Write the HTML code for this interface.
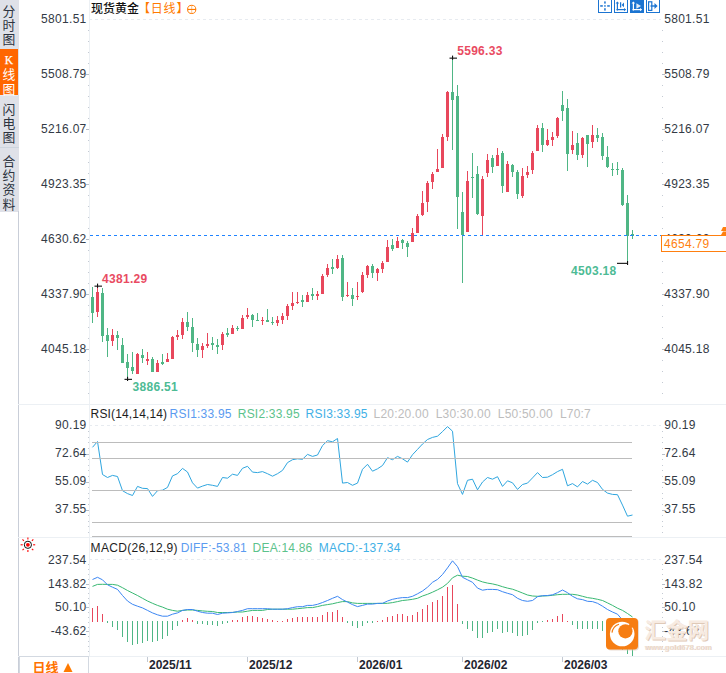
<!DOCTYPE html>
<html><head><meta charset="utf-8"><title>现货黄金 日线</title>
<style>html,body{margin:0;padding:0;background:#fff;width:726px;height:673px;overflow:hidden}</style>
</head><body>
<svg width="726" height="673" viewBox="0 0 726 673" style="display:block">
<rect width="726" height="673" fill="#fff"/>
<rect x="0" y="0" width="19" height="212" fill="#dfe1e8"/>
<rect x="0" y="49" width="18" height="46" fill="#ff6600"/>
<rect x="0" y="95" width="18" height="1" fill="#e9ecf2"/>
<rect x="0" y="147" width="19" height="1" fill="#cdd5de"/>
<text x="8.8" y="16.2" font-family="'Liberation Sans', 'Noto Sans CJK SC', 'WenQuanYi Zen Hei', sans-serif" font-size="12.8" fill="#2d3440" text-anchor="middle">分</text>
<text x="8.8" y="30.1" font-family="'Liberation Sans', 'Noto Sans CJK SC', 'WenQuanYi Zen Hei', sans-serif" font-size="12.8" fill="#2d3440" text-anchor="middle">时</text>
<text x="8.8" y="44.3" font-family="'Liberation Sans', 'Noto Sans CJK SC', 'WenQuanYi Zen Hei', sans-serif" font-size="12.8" fill="#2d3440" text-anchor="middle">图</text>
<text x="8.8" y="64" font-family="'Liberation Serif', serif" font-size="11.5" stroke="#fff" stroke-width="0.25" fill="#fff" text-anchor="middle">K</text>
<text x="8.8" y="79.3" font-family="'Liberation Sans', 'Noto Sans CJK SC', 'WenQuanYi Zen Hei', sans-serif" font-size="12.8" fill="#fff" text-anchor="middle">线</text>
<text x="8.8" y="93.5" font-family="'Liberation Sans', 'Noto Sans CJK SC', 'WenQuanYi Zen Hei', sans-serif" font-size="12.8" fill="#fff" text-anchor="middle">图</text>
<text x="8.8" y="114.1" font-family="'Liberation Sans', 'Noto Sans CJK SC', 'WenQuanYi Zen Hei', sans-serif" font-size="12.8" fill="#2d3440" text-anchor="middle">闪</text>
<text x="8.8" y="128.2" font-family="'Liberation Sans', 'Noto Sans CJK SC', 'WenQuanYi Zen Hei', sans-serif" font-size="12.8" fill="#2d3440" text-anchor="middle">电</text>
<text x="8.8" y="142.3" font-family="'Liberation Sans', 'Noto Sans CJK SC', 'WenQuanYi Zen Hei', sans-serif" font-size="12.8" fill="#2d3440" text-anchor="middle">图</text>
<text x="8.8" y="166.1" font-family="'Liberation Sans', 'Noto Sans CJK SC', 'WenQuanYi Zen Hei', sans-serif" font-size="12.8" fill="#2d3440" text-anchor="middle">合</text>
<text x="8.8" y="180.1" font-family="'Liberation Sans', 'Noto Sans CJK SC', 'WenQuanYi Zen Hei', sans-serif" font-size="12.8" fill="#2d3440" text-anchor="middle">约</text>
<text x="8.8" y="194.3" font-family="'Liberation Sans', 'Noto Sans CJK SC', 'WenQuanYi Zen Hei', sans-serif" font-size="12.8" fill="#2d3440" text-anchor="middle">资</text>
<text x="8.8" y="208.7" font-family="'Liberation Sans', 'Noto Sans CJK SC', 'WenQuanYi Zen Hei', sans-serif" font-size="12.8" fill="#2d3440" text-anchor="middle">料</text>
<rect x="18" y="211" width="1" height="462" fill="#c9ced8"/>
<rect x="18" y="404" width="708" height="1" fill="#ecf0f4"/>
<rect x="18" y="537" width="708" height="1" fill="#ecf0f4"/>
<rect x="18" y="656" width="708" height="1" fill="#ecf0f4"/>
<rect x="89" y="0" width="1" height="656" fill="#ecf0f4"/>
<rect x="19" y="656" width="70" height="1" fill="#d3d9e1"/>
<rect x="19" y="656" width="1" height="17" fill="#d3d9e1"/>
<rect x="88" y="656" width="1" height="17" fill="#d3d9e1"/>
<line x1="90" y1="19.5" x2="661" y2="19.5" stroke="#e7ebf0" stroke-width="1" stroke-dasharray="3 3" stroke-dashoffset="1"/>
<rect x="88" y="30" width="1" height="1" fill="#c4cad3"/>
<rect x="662" y="30" width="1" height="1" fill="#c4cad3"/>
<rect x="88" y="41" width="1" height="1" fill="#c4cad3"/>
<rect x="662" y="41" width="1" height="1" fill="#c4cad3"/>
<rect x="88" y="52" width="1" height="1" fill="#c4cad3"/>
<rect x="662" y="52" width="1" height="1" fill="#c4cad3"/>
<rect x="88" y="63" width="1" height="1" fill="#c4cad3"/>
<rect x="662" y="63" width="1" height="1" fill="#c4cad3"/>
<rect x="86" y="74" width="3" height="1" fill="#b8bec8"/>
<rect x="662" y="74" width="3" height="1" fill="#b8bec8"/>
<rect x="88" y="85" width="1" height="1" fill="#c4cad3"/>
<rect x="662" y="85" width="1" height="1" fill="#c4cad3"/>
<rect x="88" y="96" width="1" height="1" fill="#c4cad3"/>
<rect x="662" y="96" width="1" height="1" fill="#c4cad3"/>
<rect x="88" y="107" width="1" height="1" fill="#c4cad3"/>
<rect x="662" y="107" width="1" height="1" fill="#c4cad3"/>
<rect x="88" y="118" width="1" height="1" fill="#c4cad3"/>
<rect x="662" y="118" width="1" height="1" fill="#c4cad3"/>
<rect x="86" y="129" width="3" height="1" fill="#b8bec8"/>
<rect x="662" y="129" width="3" height="1" fill="#b8bec8"/>
<rect x="88" y="140" width="1" height="1" fill="#c4cad3"/>
<rect x="662" y="140" width="1" height="1" fill="#c4cad3"/>
<rect x="88" y="151" width="1" height="1" fill="#c4cad3"/>
<rect x="662" y="151" width="1" height="1" fill="#c4cad3"/>
<rect x="88" y="162" width="1" height="1" fill="#c4cad3"/>
<rect x="662" y="162" width="1" height="1" fill="#c4cad3"/>
<rect x="88" y="173" width="1" height="1" fill="#c4cad3"/>
<rect x="662" y="173" width="1" height="1" fill="#c4cad3"/>
<rect x="86" y="184" width="3" height="1" fill="#b8bec8"/>
<rect x="662" y="184" width="3" height="1" fill="#b8bec8"/>
<rect x="88" y="195" width="1" height="1" fill="#c4cad3"/>
<rect x="662" y="195" width="1" height="1" fill="#c4cad3"/>
<rect x="88" y="206" width="1" height="1" fill="#c4cad3"/>
<rect x="662" y="206" width="1" height="1" fill="#c4cad3"/>
<rect x="88" y="217" width="1" height="1" fill="#c4cad3"/>
<rect x="662" y="217" width="1" height="1" fill="#c4cad3"/>
<rect x="88" y="228" width="1" height="1" fill="#c4cad3"/>
<rect x="662" y="228" width="1" height="1" fill="#c4cad3"/>
<rect x="86" y="239" width="3" height="1" fill="#b8bec8"/>
<rect x="662" y="239" width="3" height="1" fill="#b8bec8"/>
<rect x="88" y="250" width="1" height="1" fill="#c4cad3"/>
<rect x="662" y="250" width="1" height="1" fill="#c4cad3"/>
<rect x="88" y="261" width="1" height="1" fill="#c4cad3"/>
<rect x="662" y="261" width="1" height="1" fill="#c4cad3"/>
<rect x="88" y="272" width="1" height="1" fill="#c4cad3"/>
<rect x="662" y="272" width="1" height="1" fill="#c4cad3"/>
<rect x="88" y="283" width="1" height="1" fill="#c4cad3"/>
<rect x="662" y="283" width="1" height="1" fill="#c4cad3"/>
<rect x="86" y="294" width="3" height="1" fill="#b8bec8"/>
<rect x="662" y="294" width="3" height="1" fill="#b8bec8"/>
<rect x="88" y="305" width="1" height="1" fill="#c4cad3"/>
<rect x="662" y="305" width="1" height="1" fill="#c4cad3"/>
<rect x="88" y="316" width="1" height="1" fill="#c4cad3"/>
<rect x="662" y="316" width="1" height="1" fill="#c4cad3"/>
<rect x="88" y="327" width="1" height="1" fill="#c4cad3"/>
<rect x="662" y="327" width="1" height="1" fill="#c4cad3"/>
<rect x="88" y="338" width="1" height="1" fill="#c4cad3"/>
<rect x="662" y="338" width="1" height="1" fill="#c4cad3"/>
<rect x="86" y="349" width="3" height="1" fill="#b8bec8"/>
<rect x="662" y="349" width="3" height="1" fill="#b8bec8"/>
<rect x="88" y="360" width="1" height="1" fill="#c4cad3"/>
<rect x="662" y="360" width="1" height="1" fill="#c4cad3"/>
<rect x="88" y="371" width="1" height="1" fill="#c4cad3"/>
<rect x="662" y="371" width="1" height="1" fill="#c4cad3"/>
<rect x="88" y="382" width="1" height="1" fill="#c4cad3"/>
<rect x="662" y="382" width="1" height="1" fill="#c4cad3"/>
<rect x="88" y="393" width="1" height="1" fill="#c4cad3"/>
<rect x="662" y="393" width="1" height="1" fill="#c4cad3"/>
<text x="86.6" y="22.9" font-family="'Liberation Sans', Arial, sans-serif" font-size="12" letter-spacing="0.3" fill="#333a45" text-anchor="end">5801.51</text>
<text x="664.2" y="22.9" font-family="'Liberation Sans', Arial, sans-serif" font-size="12" letter-spacing="0.3" fill="#333a45">5801.51</text>
<text x="86.6" y="77.9" font-family="'Liberation Sans', Arial, sans-serif" font-size="12" letter-spacing="0.3" fill="#333a45" text-anchor="end">5508.79</text>
<text x="664.2" y="77.9" font-family="'Liberation Sans', Arial, sans-serif" font-size="12" letter-spacing="0.3" fill="#333a45">5508.79</text>
<text x="86.6" y="132.9" font-family="'Liberation Sans', Arial, sans-serif" font-size="12" letter-spacing="0.3" fill="#333a45" text-anchor="end">5216.07</text>
<text x="664.2" y="132.9" font-family="'Liberation Sans', Arial, sans-serif" font-size="12" letter-spacing="0.3" fill="#333a45">5216.07</text>
<text x="86.6" y="187.9" font-family="'Liberation Sans', Arial, sans-serif" font-size="12" letter-spacing="0.3" fill="#333a45" text-anchor="end">4923.35</text>
<text x="664.2" y="187.9" font-family="'Liberation Sans', Arial, sans-serif" font-size="12" letter-spacing="0.3" fill="#333a45">4923.35</text>
<text x="86.6" y="242.9" font-family="'Liberation Sans', Arial, sans-serif" font-size="12" letter-spacing="0.3" fill="#333a45" text-anchor="end">4630.62</text>
<text x="664.2" y="242.9" font-family="'Liberation Sans', Arial, sans-serif" font-size="12" letter-spacing="0.3" fill="#333a45">4630.62</text>
<text x="86.6" y="297.9" font-family="'Liberation Sans', Arial, sans-serif" font-size="12" letter-spacing="0.3" fill="#333a45" text-anchor="end">4337.90</text>
<text x="664.2" y="297.9" font-family="'Liberation Sans', Arial, sans-serif" font-size="12" letter-spacing="0.3" fill="#333a45">4337.90</text>
<text x="86.6" y="352.9" font-family="'Liberation Sans', Arial, sans-serif" font-size="12" letter-spacing="0.3" fill="#333a45" text-anchor="end">4045.18</text>
<text x="664.2" y="352.9" font-family="'Liberation Sans', Arial, sans-serif" font-size="12" letter-spacing="0.3" fill="#333a45">4045.18</text>
<line x1="90" y1="425.5" x2="661" y2="425.5" stroke="#e7ebf0" stroke-width="1" stroke-dasharray="3 3" stroke-dashoffset="1"/>
<rect x="88" y="431" width="1" height="1" fill="#c4cad3"/>
<rect x="662" y="431" width="1" height="1" fill="#c4cad3"/>
<rect x="88" y="437" width="1" height="1" fill="#c4cad3"/>
<rect x="662" y="437" width="1" height="1" fill="#c4cad3"/>
<rect x="88" y="442" width="1" height="1" fill="#c4cad3"/>
<rect x="662" y="442" width="1" height="1" fill="#c4cad3"/>
<rect x="88" y="448" width="1" height="1" fill="#c4cad3"/>
<rect x="662" y="448" width="1" height="1" fill="#c4cad3"/>
<rect x="86" y="454" width="3" height="1" fill="#b8bec8"/>
<rect x="662" y="454" width="3" height="1" fill="#b8bec8"/>
<rect x="88" y="459" width="1" height="1" fill="#c4cad3"/>
<rect x="662" y="459" width="1" height="1" fill="#c4cad3"/>
<rect x="88" y="465" width="1" height="1" fill="#c4cad3"/>
<rect x="662" y="465" width="1" height="1" fill="#c4cad3"/>
<rect x="88" y="470" width="1" height="1" fill="#c4cad3"/>
<rect x="662" y="470" width="1" height="1" fill="#c4cad3"/>
<rect x="88" y="476" width="1" height="1" fill="#c4cad3"/>
<rect x="662" y="476" width="1" height="1" fill="#c4cad3"/>
<rect x="86" y="482" width="3" height="1" fill="#b8bec8"/>
<rect x="662" y="482" width="3" height="1" fill="#b8bec8"/>
<rect x="88" y="487" width="1" height="1" fill="#c4cad3"/>
<rect x="662" y="487" width="1" height="1" fill="#c4cad3"/>
<rect x="88" y="493" width="1" height="1" fill="#c4cad3"/>
<rect x="662" y="493" width="1" height="1" fill="#c4cad3"/>
<rect x="88" y="498" width="1" height="1" fill="#c4cad3"/>
<rect x="662" y="498" width="1" height="1" fill="#c4cad3"/>
<rect x="88" y="504" width="1" height="1" fill="#c4cad3"/>
<rect x="662" y="504" width="1" height="1" fill="#c4cad3"/>
<rect x="86" y="510" width="3" height="1" fill="#b8bec8"/>
<rect x="662" y="510" width="3" height="1" fill="#b8bec8"/>
<rect x="88" y="515" width="1" height="1" fill="#c4cad3"/>
<rect x="662" y="515" width="1" height="1" fill="#c4cad3"/>
<rect x="88" y="521" width="1" height="1" fill="#c4cad3"/>
<rect x="662" y="521" width="1" height="1" fill="#c4cad3"/>
<rect x="88" y="526" width="1" height="1" fill="#c4cad3"/>
<rect x="662" y="526" width="1" height="1" fill="#c4cad3"/>
<rect x="88" y="532" width="1" height="1" fill="#c4cad3"/>
<rect x="662" y="532" width="1" height="1" fill="#c4cad3"/>
<text x="86.6" y="429.4" font-family="'Liberation Sans', Arial, sans-serif" font-size="12" letter-spacing="0.3" fill="#333a45" text-anchor="end">90.19</text>
<text x="664.2" y="429.4" font-family="'Liberation Sans', Arial, sans-serif" font-size="12" letter-spacing="0.3" fill="#333a45">90.19</text>
<text x="86.6" y="457.4" font-family="'Liberation Sans', Arial, sans-serif" font-size="12" letter-spacing="0.3" fill="#333a45" text-anchor="end">72.64</text>
<text x="664.2" y="457.4" font-family="'Liberation Sans', Arial, sans-serif" font-size="12" letter-spacing="0.3" fill="#333a45">72.64</text>
<text x="86.6" y="485.4" font-family="'Liberation Sans', Arial, sans-serif" font-size="12" letter-spacing="0.3" fill="#333a45" text-anchor="end">55.09</text>
<text x="664.2" y="485.4" font-family="'Liberation Sans', Arial, sans-serif" font-size="12" letter-spacing="0.3" fill="#333a45">55.09</text>
<text x="86.6" y="513.4" font-family="'Liberation Sans', Arial, sans-serif" font-size="12" letter-spacing="0.3" fill="#333a45" text-anchor="end">37.55</text>
<text x="664.2" y="513.4" font-family="'Liberation Sans', Arial, sans-serif" font-size="12" letter-spacing="0.3" fill="#333a45">37.55</text>
<line x1="90" y1="559.5" x2="661" y2="559.5" stroke="#e7ebf0" stroke-width="1" stroke-dasharray="3 3" stroke-dashoffset="1"/>
<rect x="88" y="564" width="1" height="1" fill="#c4cad3"/>
<rect x="662" y="564" width="1" height="1" fill="#c4cad3"/>
<rect x="88" y="569" width="1" height="1" fill="#c4cad3"/>
<rect x="662" y="569" width="1" height="1" fill="#c4cad3"/>
<rect x="88" y="574" width="1" height="1" fill="#c4cad3"/>
<rect x="662" y="574" width="1" height="1" fill="#c4cad3"/>
<rect x="88" y="579" width="1" height="1" fill="#c4cad3"/>
<rect x="662" y="579" width="1" height="1" fill="#c4cad3"/>
<rect x="86" y="584" width="3" height="1" fill="#b8bec8"/>
<rect x="662" y="584" width="3" height="1" fill="#b8bec8"/>
<rect x="88" y="588" width="1" height="1" fill="#c4cad3"/>
<rect x="662" y="588" width="1" height="1" fill="#c4cad3"/>
<rect x="88" y="593" width="1" height="1" fill="#c4cad3"/>
<rect x="662" y="593" width="1" height="1" fill="#c4cad3"/>
<rect x="88" y="598" width="1" height="1" fill="#c4cad3"/>
<rect x="662" y="598" width="1" height="1" fill="#c4cad3"/>
<rect x="88" y="603" width="1" height="1" fill="#c4cad3"/>
<rect x="662" y="603" width="1" height="1" fill="#c4cad3"/>
<rect x="86" y="607" width="3" height="1" fill="#b8bec8"/>
<rect x="662" y="607" width="3" height="1" fill="#b8bec8"/>
<rect x="88" y="612" width="1" height="1" fill="#c4cad3"/>
<rect x="662" y="612" width="1" height="1" fill="#c4cad3"/>
<rect x="88" y="617" width="1" height="1" fill="#c4cad3"/>
<rect x="662" y="617" width="1" height="1" fill="#c4cad3"/>
<rect x="88" y="622" width="1" height="1" fill="#c4cad3"/>
<rect x="662" y="622" width="1" height="1" fill="#c4cad3"/>
<rect x="88" y="627" width="1" height="1" fill="#c4cad3"/>
<rect x="662" y="627" width="1" height="1" fill="#c4cad3"/>
<rect x="86" y="631" width="3" height="1" fill="#b8bec8"/>
<rect x="662" y="631" width="3" height="1" fill="#b8bec8"/>
<rect x="88" y="636" width="1" height="1" fill="#c4cad3"/>
<rect x="662" y="636" width="1" height="1" fill="#c4cad3"/>
<rect x="88" y="641" width="1" height="1" fill="#c4cad3"/>
<rect x="662" y="641" width="1" height="1" fill="#c4cad3"/>
<rect x="88" y="646" width="1" height="1" fill="#c4cad3"/>
<rect x="662" y="646" width="1" height="1" fill="#c4cad3"/>
<rect x="88" y="651" width="1" height="1" fill="#c4cad3"/>
<rect x="662" y="651" width="1" height="1" fill="#c4cad3"/>
<text x="86.6" y="563.6" font-family="'Liberation Sans', Arial, sans-serif" font-size="12" letter-spacing="0.3" fill="#333a45" text-anchor="end">237.54</text>
<text x="664.2" y="563.6" font-family="'Liberation Sans', Arial, sans-serif" font-size="12" letter-spacing="0.3" fill="#333a45">237.54</text>
<text x="86.6" y="587.5" font-family="'Liberation Sans', Arial, sans-serif" font-size="12" letter-spacing="0.3" fill="#333a45" text-anchor="end">143.82</text>
<text x="664.2" y="587.5" font-family="'Liberation Sans', Arial, sans-serif" font-size="12" letter-spacing="0.3" fill="#333a45">143.82</text>
<text x="86.6" y="611.4" font-family="'Liberation Sans', Arial, sans-serif" font-size="12" letter-spacing="0.3" fill="#333a45" text-anchor="end">50.10</text>
<text x="664.2" y="611.4" font-family="'Liberation Sans', Arial, sans-serif" font-size="12" letter-spacing="0.3" fill="#333a45">50.10</text>
<text x="86.6" y="635.3" font-family="'Liberation Sans', Arial, sans-serif" font-size="12" letter-spacing="0.3" fill="#333a45" text-anchor="end">-43.62</text>
<text x="664.2" y="635.3" font-family="'Liberation Sans', Arial, sans-serif" font-size="12" letter-spacing="0.3" fill="#333a45">-43.62</text>
<g shape-rendering="crispEdges">
<rect x="92" y="287" width="1" height="36" fill="#4fb685"/>
<rect x="91" y="297" width="3" height="16" fill="#4fb685"/>
<rect x="97" y="286" width="1" height="31" fill="#e8475c"/>
<rect x="96" y="292" width="3" height="20" fill="#e8475c"/>
<rect x="102" y="288" width="1" height="54" fill="#4fb685"/>
<rect x="101" y="293" width="3" height="43" fill="#4fb685"/>
<rect x="107" y="328" width="1" height="29" fill="#4fb685"/>
<rect x="106" y="335" width="3" height="6" fill="#4fb685"/>
<rect x="112" y="329" width="1" height="17" fill="#e8475c"/>
<rect x="111" y="335" width="3" height="6" fill="#e8475c"/>
<rect x="117" y="331" width="1" height="19" fill="#4fb685"/>
<rect x="116" y="335" width="3" height="3" fill="#4fb685"/>
<rect x="122" y="338" width="1" height="25" fill="#4fb685"/>
<rect x="121" y="345" width="3" height="18" fill="#4fb685"/>
<rect x="127" y="354" width="1" height="25" fill="#4fb685"/>
<rect x="126" y="362" width="3" height="6" fill="#4fb685"/>
<rect x="132" y="352" width="1" height="22" fill="#4fb685"/>
<rect x="131" y="367" width="3" height="4" fill="#4fb685"/>
<rect x="137" y="353" width="1" height="21" fill="#e8475c"/>
<rect x="136" y="354" width="3" height="20" fill="#e8475c"/>
<rect x="142" y="349" width="1" height="14" fill="#4fb685"/>
<rect x="141" y="355" width="3" height="3" fill="#4fb685"/>
<rect x="147" y="352" width="1" height="13" fill="#e8475c"/>
<rect x="146" y="359" width="3" height="2" fill="#e8475c"/>
<rect x="152" y="357" width="1" height="15" fill="#4fb685"/>
<rect x="151" y="359" width="3" height="13" fill="#4fb685"/>
<rect x="157" y="360" width="1" height="12" fill="#e8475c"/>
<rect x="156" y="363" width="3" height="9" fill="#e8475c"/>
<rect x="162" y="354" width="1" height="11" fill="#4fb685"/>
<rect x="161" y="362" width="3" height="2" fill="#4fb685"/>
<rect x="167" y="353" width="1" height="9" fill="#e8475c"/>
<rect x="166" y="359" width="3" height="3" fill="#e8475c"/>
<rect x="172" y="336" width="1" height="23" fill="#e8475c"/>
<rect x="171" y="337" width="3" height="22" fill="#e8475c"/>
<rect x="177" y="330" width="1" height="10" fill="#e8475c"/>
<rect x="176" y="335" width="3" height="2" fill="#e8475c"/>
<rect x="182" y="318" width="1" height="21" fill="#e8475c"/>
<rect x="181" y="322" width="3" height="13" fill="#e8475c"/>
<rect x="187" y="312" width="1" height="19" fill="#4fb685"/>
<rect x="186" y="322" width="3" height="5" fill="#4fb685"/>
<rect x="192" y="318" width="1" height="34" fill="#4fb685"/>
<rect x="191" y="327" width="3" height="16" fill="#4fb685"/>
<rect x="197" y="338" width="1" height="19" fill="#4fb685"/>
<rect x="196" y="344" width="3" height="6" fill="#4fb685"/>
<rect x="202" y="343" width="1" height="15" fill="#e8475c"/>
<rect x="201" y="346" width="3" height="4" fill="#e8475c"/>
<rect x="207" y="333" width="1" height="15" fill="#e8475c"/>
<rect x="206" y="344" width="3" height="2" fill="#e8475c"/>
<rect x="212" y="337" width="1" height="13" fill="#4fb685"/>
<rect x="211" y="343" width="3" height="2" fill="#4fb685"/>
<rect x="217" y="339" width="1" height="15" fill="#4fb685"/>
<rect x="216" y="345" width="3" height="2" fill="#4fb685"/>
<rect x="222" y="332" width="1" height="18" fill="#e8475c"/>
<rect x="221" y="334" width="3" height="11" fill="#e8475c"/>
<rect x="227" y="328" width="1" height="9" fill="#4fb685"/>
<rect x="226" y="333" width="3" height="2" fill="#4fb685"/>
<rect x="232" y="325" width="1" height="9" fill="#e8475c"/>
<rect x="231" y="328" width="3" height="6" fill="#e8475c"/>
<rect x="237" y="326" width="1" height="5" fill="#4fb685"/>
<rect x="236" y="328" width="3" height="1" fill="#4fb685"/>
<rect x="242" y="315" width="1" height="14" fill="#e8475c"/>
<rect x="241" y="318" width="3" height="11" fill="#e8475c"/>
<rect x="247" y="308" width="1" height="11" fill="#e8475c"/>
<rect x="246" y="315" width="3" height="2" fill="#e8475c"/>
<rect x="252" y="314" width="1" height="13" fill="#4fb685"/>
<rect x="251" y="315" width="3" height="5" fill="#4fb685"/>
<rect x="257" y="313" width="1" height="8" fill="#4fb685"/>
<rect x="256" y="320" width="3" height="1" fill="#4fb685"/>
<rect x="262" y="317" width="1" height="8" fill="#e8475c"/>
<rect x="261" y="320" width="3" height="1" fill="#e8475c"/>
<rect x="267" y="309" width="1" height="13" fill="#4fb685"/>
<rect x="266" y="320" width="3" height="2" fill="#4fb685"/>
<rect x="272" y="317" width="1" height="8" fill="#4fb685"/>
<rect x="271" y="322" width="3" height="1" fill="#4fb685"/>
<rect x="277" y="316" width="1" height="10" fill="#e8475c"/>
<rect x="276" y="320" width="3" height="3" fill="#e8475c"/>
<rect x="282" y="313" width="1" height="11" fill="#e8475c"/>
<rect x="281" y="316" width="3" height="4" fill="#e8475c"/>
<rect x="287" y="304" width="1" height="16" fill="#e8475c"/>
<rect x="286" y="306" width="3" height="10" fill="#e8475c"/>
<rect x="292" y="292" width="1" height="18" fill="#e8475c"/>
<rect x="291" y="303" width="3" height="3" fill="#e8475c"/>
<rect x="297" y="292" width="1" height="12" fill="#e8475c"/>
<rect x="296" y="302" width="3" height="1" fill="#e8475c"/>
<rect x="302" y="295" width="1" height="12" fill="#4fb685"/>
<rect x="301" y="300" width="3" height="2" fill="#4fb685"/>
<rect x="307" y="292" width="1" height="10" fill="#e8475c"/>
<rect x="306" y="295" width="3" height="7" fill="#e8475c"/>
<rect x="312" y="288" width="1" height="12" fill="#4fb685"/>
<rect x="311" y="294" width="3" height="2" fill="#4fb685"/>
<rect x="317" y="291" width="1" height="9" fill="#e8475c"/>
<rect x="316" y="294" width="3" height="2" fill="#e8475c"/>
<rect x="322" y="274" width="1" height="20" fill="#e8475c"/>
<rect x="321" y="276" width="3" height="18" fill="#e8475c"/>
<rect x="327" y="264" width="1" height="13" fill="#e8475c"/>
<rect x="326" y="268" width="3" height="7" fill="#e8475c"/>
<rect x="332" y="259" width="1" height="15" fill="#4fb685"/>
<rect x="331" y="267" width="3" height="2" fill="#4fb685"/>
<rect x="337" y="255" width="1" height="14" fill="#e8475c"/>
<rect x="336" y="259" width="3" height="9" fill="#e8475c"/>
<rect x="342" y="255" width="1" height="46" fill="#4fb685"/>
<rect x="341" y="258" width="3" height="39" fill="#4fb685"/>
<rect x="347" y="282" width="1" height="15" fill="#e8475c"/>
<rect x="346" y="295" width="3" height="1" fill="#e8475c"/>
<rect x="352" y="288" width="1" height="18" fill="#4fb685"/>
<rect x="351" y="295" width="3" height="4" fill="#4fb685"/>
<rect x="357" y="282" width="1" height="18" fill="#e8475c"/>
<rect x="356" y="296" width="3" height="1" fill="#e8475c"/>
<rect x="362" y="272" width="1" height="21" fill="#e8475c"/>
<rect x="361" y="275" width="3" height="17" fill="#e8475c"/>
<rect x="367" y="265" width="1" height="13" fill="#e8475c"/>
<rect x="366" y="266" width="3" height="9" fill="#e8475c"/>
<rect x="372" y="264" width="1" height="14" fill="#4fb685"/>
<rect x="371" y="266" width="3" height="7" fill="#4fb685"/>
<rect x="377" y="268" width="1" height="13" fill="#e8475c"/>
<rect x="376" y="269" width="3" height="4" fill="#e8475c"/>
<rect x="382" y="261" width="1" height="12" fill="#e8475c"/>
<rect x="381" y="263" width="3" height="6" fill="#e8475c"/>
<rect x="387" y="240" width="1" height="22" fill="#e8475c"/>
<rect x="386" y="247" width="3" height="15" fill="#e8475c"/>
<rect x="392" y="239" width="1" height="12" fill="#4fb685"/>
<rect x="391" y="245" width="3" height="4" fill="#4fb685"/>
<rect x="397" y="237" width="1" height="11" fill="#e8475c"/>
<rect x="396" y="241" width="3" height="7" fill="#e8475c"/>
<rect x="402" y="239" width="1" height="10" fill="#4fb685"/>
<rect x="401" y="240" width="3" height="3" fill="#4fb685"/>
<rect x="407" y="241" width="1" height="16" fill="#4fb685"/>
<rect x="406" y="243" width="3" height="4" fill="#4fb685"/>
<rect x="412" y="228" width="1" height="14" fill="#e8475c"/>
<rect x="411" y="233" width="3" height="9" fill="#e8475c"/>
<rect x="417" y="214" width="1" height="19" fill="#e8475c"/>
<rect x="416" y="216" width="3" height="17" fill="#e8475c"/>
<rect x="422" y="191" width="1" height="25" fill="#e8475c"/>
<rect x="421" y="203" width="3" height="12" fill="#e8475c"/>
<rect x="427" y="181" width="1" height="31" fill="#e8475c"/>
<rect x="426" y="183" width="3" height="19" fill="#e8475c"/>
<rect x="432" y="172" width="1" height="17" fill="#e8475c"/>
<rect x="431" y="174" width="3" height="8" fill="#e8475c"/>
<rect x="437" y="149" width="1" height="23" fill="#e8475c"/>
<rect x="436" y="169" width="3" height="3" fill="#e8475c"/>
<rect x="442" y="134" width="1" height="34" fill="#e8475c"/>
<rect x="441" y="137" width="3" height="31" fill="#e8475c"/>
<rect x="447" y="91" width="1" height="50" fill="#e8475c"/>
<rect x="446" y="92" width="3" height="45" fill="#e8475c"/>
<rect x="452" y="58" width="1" height="92" fill="#4fb685"/>
<rect x="451" y="92" width="3" height="8" fill="#4fb685"/>
<rect x="457" y="85" width="1" height="144" fill="#4fb685"/>
<rect x="456" y="96" width="3" height="101" fill="#4fb685"/>
<rect x="462" y="192" width="1" height="91" fill="#4fb685"/>
<rect x="461" y="212" width="3" height="23" fill="#4fb685"/>
<rect x="467" y="171" width="1" height="61" fill="#e8475c"/>
<rect x="466" y="181" width="3" height="51" fill="#e8475c"/>
<rect x="472" y="153" width="1" height="45" fill="#4fb685"/>
<rect x="471" y="177" width="3" height="1" fill="#4fb685"/>
<rect x="477" y="166" width="1" height="49" fill="#4fb685"/>
<rect x="476" y="174" width="3" height="40" fill="#4fb685"/>
<rect x="482" y="176" width="1" height="59" fill="#e8475c"/>
<rect x="481" y="179" width="3" height="37" fill="#e8475c"/>
<rect x="487" y="154" width="1" height="23" fill="#e8475c"/>
<rect x="486" y="160" width="3" height="13" fill="#e8475c"/>
<rect x="492" y="155" width="1" height="18" fill="#4fb685"/>
<rect x="491" y="158" width="3" height="9" fill="#4fb685"/>
<rect x="497" y="148" width="1" height="18" fill="#e8475c"/>
<rect x="496" y="155" width="3" height="11" fill="#e8475c"/>
<rect x="502" y="151" width="1" height="42" fill="#4fb685"/>
<rect x="501" y="153" width="3" height="33" fill="#4fb685"/>
<rect x="507" y="161" width="1" height="31" fill="#e8475c"/>
<rect x="506" y="164" width="3" height="28" fill="#e8475c"/>
<rect x="512" y="164" width="1" height="13" fill="#4fb685"/>
<rect x="511" y="165" width="3" height="7" fill="#4fb685"/>
<rect x="517" y="170" width="1" height="29" fill="#4fb685"/>
<rect x="516" y="172" width="3" height="22" fill="#4fb685"/>
<rect x="522" y="168" width="1" height="30" fill="#e8475c"/>
<rect x="521" y="176" width="3" height="20" fill="#e8475c"/>
<rect x="527" y="166" width="1" height="12" fill="#e8475c"/>
<rect x="526" y="172" width="3" height="3" fill="#e8475c"/>
<rect x="532" y="151" width="1" height="23" fill="#e8475c"/>
<rect x="531" y="153" width="3" height="17" fill="#e8475c"/>
<rect x="537" y="125" width="1" height="26" fill="#e8475c"/>
<rect x="536" y="128" width="3" height="23" fill="#e8475c"/>
<rect x="542" y="123" width="1" height="29" fill="#4fb685"/>
<rect x="541" y="128" width="3" height="17" fill="#4fb685"/>
<rect x="547" y="129" width="1" height="17" fill="#e8475c"/>
<rect x="546" y="140" width="3" height="5" fill="#e8475c"/>
<rect x="552" y="132" width="1" height="14" fill="#e8475c"/>
<rect x="551" y="137" width="3" height="3" fill="#e8475c"/>
<rect x="557" y="117" width="1" height="21" fill="#e8475c"/>
<rect x="556" y="118" width="3" height="18" fill="#e8475c"/>
<rect x="562" y="91" width="1" height="30" fill="#4fb685"/>
<rect x="561" y="105" width="3" height="6" fill="#4fb685"/>
<rect x="567" y="99" width="1" height="72" fill="#4fb685"/>
<rect x="566" y="108" width="3" height="46" fill="#4fb685"/>
<rect x="572" y="131" width="1" height="23" fill="#e8475c"/>
<rect x="571" y="145" width="3" height="5" fill="#e8475c"/>
<rect x="577" y="133" width="1" height="27" fill="#4fb685"/>
<rect x="576" y="143" width="3" height="12" fill="#4fb685"/>
<rect x="582" y="137" width="1" height="21" fill="#e8475c"/>
<rect x="581" y="138" width="3" height="17" fill="#e8475c"/>
<rect x="587" y="135" width="1" height="32" fill="#4fb685"/>
<rect x="586" y="135" width="3" height="9" fill="#4fb685"/>
<rect x="592" y="125" width="1" height="23" fill="#e8475c"/>
<rect x="591" y="135" width="3" height="7" fill="#e8475c"/>
<rect x="597" y="128" width="1" height="14" fill="#4fb685"/>
<rect x="596" y="135" width="3" height="3" fill="#4fb685"/>
<rect x="602" y="133" width="1" height="27" fill="#4fb685"/>
<rect x="601" y="137" width="3" height="19" fill="#4fb685"/>
<rect x="607" y="146" width="1" height="22" fill="#4fb685"/>
<rect x="606" y="157" width="3" height="10" fill="#4fb685"/>
<rect x="612" y="163" width="1" height="13" fill="#4fb685"/>
<rect x="611" y="169" width="3" height="1" fill="#4fb685"/>
<rect x="617" y="162" width="1" height="13" fill="#4fb685"/>
<rect x="616" y="169" width="3" height="1" fill="#4fb685"/>
<rect x="622" y="168" width="1" height="38" fill="#4fb685"/>
<rect x="621" y="170" width="3" height="35" fill="#4fb685"/>
<rect x="627" y="195" width="1" height="68" fill="#4fb685"/>
<rect x="626" y="203" width="3" height="33" fill="#4fb685"/>
<rect x="632" y="230" width="1" height="9" fill="#4fb685"/>
<rect x="631" y="234" width="3" height="2" fill="#4fb685"/>
</g>
<line x1="90" y1="235.5" x2="661" y2="235.5" stroke="#1f83ff" stroke-width="1.2" stroke-dasharray="3 3"/>
<rect x="94.5" y="285.6" width="7.5" height="1.1" fill="#111"/>
<rect x="97" y="283.6" width="1.1" height="4.2" fill="#111"/>
<text x="102" y="283" font-family="'Liberation Sans', Arial, sans-serif" font-size="12" font-weight="bold" letter-spacing="0.3" fill="#e94b62">4381.29</text>
<rect x="124.5" y="378.8" width="7.5" height="1.1" fill="#111"/>
<rect x="127" y="376.8" width="1.1" height="4.2" fill="#111"/>
<text x="132.5" y="390.5" font-family="'Liberation Sans', Arial, sans-serif" font-size="12" font-weight="bold" letter-spacing="0.3" fill="#4dbb95">3886.51</text>
<rect x="449.5" y="57.6" width="7.5" height="1.1" fill="#111"/>
<rect x="452" y="55.6" width="1.1" height="4.2" fill="#111"/>
<text x="457.2" y="54.8" font-family="'Liberation Sans', Arial, sans-serif" font-size="12" font-weight="bold" letter-spacing="0.3" fill="#e94b62">5596.33</text>
<rect x="617" y="262.8" width="11" height="1.1" fill="#111"/>
<rect x="627" y="261" width="1.1" height="4" fill="#111"/>
<text x="571" y="274.8" font-family="'Liberation Sans', Arial, sans-serif" font-size="12" font-weight="bold" letter-spacing="0.3" fill="#4dbb95">4503.18</text>
<polyline points="92.5,447.3 97.5,441.5 102.5,474.5 107.5,477.5 112.5,475.4 117.5,476.5 122.5,490.7 127.5,493.6 132.5,495.5 137.5,486.4 142.5,488.3 147.5,488.6 152.5,496.4 157.5,490.7 162.5,490.2 167.5,487.4 172.5,475.9 177.5,473.7 182.5,468.4 187.5,472.0 192.5,482.8 197.5,488.1 202.5,486.1 207.5,484.5 212.5,485.3 217.5,486.4 222.5,477.5 227.5,478.2 232.5,474.2 237.5,475.4 242.5,468.3 247.5,466.3 252.5,472.1 257.5,472.6 262.5,471.6 267.5,473.7 272.5,476.2 277.5,473.7 282.5,470.4 287.5,462.6 292.5,459.7 297.5,458.8 302.5,459.3 307.5,454.4 312.5,456.4 317.5,455.0 322.5,445.6 327.5,440.7 332.5,441.8 337.5,438.5 342.5,483.1 347.5,482.5 352.5,485.3 357.5,483.1 362.5,469.3 367.5,464.3 372.5,471.2 377.5,468.8 382.5,465.5 387.5,457.7 392.5,459.7 397.5,456.4 402.5,458.8 407.5,462.1 412.5,454.7 417.5,449.4 422.5,444.0 427.5,439.5 432.5,437.4 437.5,436.2 442.5,431.6 447.5,426.6 452.5,431.2 457.5,483.6 462.5,494.4 467.5,480.3 472.5,479.2 477.5,489.8 482.5,482.0 487.5,477.5 492.5,479.2 497.5,476.7 502.5,486.4 507.5,480.8 512.5,482.8 517.5,489.4 522.5,484.5 527.5,483.1 532.5,477.9 537.5,472.6 542.5,477.5 547.5,477.2 552.5,474.7 557.5,471.6 562.5,469.3 567.5,485.8 572.5,483.6 577.5,486.9 582.5,481.5 587.5,484.1 592.5,480.3 597.5,482.5 602.5,489.4 607.5,493.1 612.5,494.4 617.5,494.7 622.5,505.1 627.5,516.2 632.5,515.0" fill="none" stroke="#2fa6df" stroke-width="1"/>
<rect x="92" y="442" width="540" height="1" fill="#bcbcbc"/>
<rect x="92" y="458" width="540" height="1" fill="#bcbcbc"/>
<rect x="92" y="490" width="540" height="1" fill="#bcbcbc"/>
<rect x="92" y="522" width="540" height="1" fill="#bcbcbc"/>
<rect x="92" y="536" width="540" height="1" fill="#bcbcbc"/>
<g shape-rendering="crispEdges">
<rect x="92" y="608" width="1" height="14" fill="#e8475c"/>
<rect x="97" y="606" width="1" height="16" fill="#e8475c"/>
<rect x="102" y="614" width="1" height="8" fill="#e8475c"/>
<rect x="107" y="621" width="1" height="2" fill="#4fb685"/>
<rect x="112" y="621" width="1" height="6" fill="#4fb685"/>
<rect x="117" y="621" width="1" height="9" fill="#4fb685"/>
<rect x="122" y="621" width="1" height="16" fill="#4fb685"/>
<rect x="127" y="621" width="1" height="21" fill="#4fb685"/>
<rect x="132" y="621" width="1" height="24" fill="#4fb685"/>
<rect x="137" y="621" width="1" height="23" fill="#4fb685"/>
<rect x="142" y="621" width="1" height="22" fill="#4fb685"/>
<rect x="147" y="621" width="1" height="20" fill="#4fb685"/>
<rect x="152" y="621" width="1" height="21" fill="#4fb685"/>
<rect x="157" y="621" width="1" height="20" fill="#4fb685"/>
<rect x="162" y="621" width="1" height="18" fill="#4fb685"/>
<rect x="167" y="621" width="1" height="15" fill="#4fb685"/>
<rect x="172" y="621" width="1" height="9" fill="#4fb685"/>
<rect x="177" y="621" width="1" height="5" fill="#4fb685"/>
<rect x="182" y="620" width="1" height="2" fill="#e8475c"/>
<rect x="187" y="618" width="1" height="4" fill="#e8475c"/>
<rect x="192" y="620" width="1" height="2" fill="#e8475c"/>
<rect x="197" y="621" width="1" height="3" fill="#4fb685"/>
<rect x="202" y="621" width="1" height="3" fill="#4fb685"/>
<rect x="207" y="621" width="1" height="4" fill="#4fb685"/>
<rect x="212" y="621" width="1" height="4" fill="#4fb685"/>
<rect x="217" y="621" width="1" height="5" fill="#4fb685"/>
<rect x="222" y="621" width="1" height="3" fill="#4fb685"/>
<rect x="227" y="621" width="1" height="2" fill="#4fb685"/>
<rect x="232" y="620" width="1" height="2" fill="#e8475c"/>
<rect x="237" y="620" width="1" height="2" fill="#e8475c"/>
<rect x="242" y="617" width="1" height="5" fill="#e8475c"/>
<rect x="247" y="616" width="1" height="6" fill="#e8475c"/>
<rect x="252" y="616" width="1" height="6" fill="#e8475c"/>
<rect x="257" y="617" width="1" height="5" fill="#e8475c"/>
<rect x="262" y="618" width="1" height="4" fill="#e8475c"/>
<rect x="267" y="619" width="1" height="3" fill="#e8475c"/>
<rect x="272" y="620" width="1" height="2" fill="#e8475c"/>
<rect x="277" y="621" width="1" height="1" fill="#e8475c"/>
<rect x="282" y="621" width="1" height="1" fill="#e8475c"/>
<rect x="287" y="619" width="1" height="3" fill="#e8475c"/>
<rect x="292" y="618" width="1" height="4" fill="#e8475c"/>
<rect x="297" y="617" width="1" height="5" fill="#e8475c"/>
<rect x="302" y="617" width="1" height="5" fill="#e8475c"/>
<rect x="307" y="617" width="1" height="5" fill="#e8475c"/>
<rect x="312" y="617" width="1" height="5" fill="#e8475c"/>
<rect x="317" y="617" width="1" height="5" fill="#e8475c"/>
<rect x="322" y="615" width="1" height="7" fill="#e8475c"/>
<rect x="327" y="612" width="1" height="10" fill="#e8475c"/>
<rect x="332" y="612" width="1" height="10" fill="#e8475c"/>
<rect x="337" y="610" width="1" height="12" fill="#e8475c"/>
<rect x="342" y="617" width="1" height="5" fill="#e8475c"/>
<rect x="347" y="621" width="1" height="2" fill="#4fb685"/>
<rect x="352" y="621" width="1" height="5" fill="#4fb685"/>
<rect x="357" y="621" width="1" height="7" fill="#4fb685"/>
<rect x="362" y="621" width="1" height="5" fill="#4fb685"/>
<rect x="367" y="621" width="1" height="2" fill="#4fb685"/>
<rect x="372" y="621" width="1" height="2" fill="#4fb685"/>
<rect x="377" y="621" width="1" height="1" fill="#e8475c"/>
<rect x="382" y="620" width="1" height="2" fill="#e8475c"/>
<rect x="387" y="617" width="1" height="5" fill="#e8475c"/>
<rect x="392" y="616" width="1" height="6" fill="#e8475c"/>
<rect x="397" y="614" width="1" height="8" fill="#e8475c"/>
<rect x="402" y="614" width="1" height="8" fill="#e8475c"/>
<rect x="407" y="616" width="1" height="6" fill="#e8475c"/>
<rect x="412" y="615" width="1" height="7" fill="#e8475c"/>
<rect x="417" y="612" width="1" height="10" fill="#e8475c"/>
<rect x="422" y="609" width="1" height="13" fill="#e8475c"/>
<rect x="427" y="605" width="1" height="17" fill="#e8475c"/>
<rect x="432" y="602" width="1" height="20" fill="#e8475c"/>
<rect x="437" y="600" width="1" height="22" fill="#e8475c"/>
<rect x="442" y="596" width="1" height="26" fill="#e8475c"/>
<rect x="447" y="587" width="1" height="35" fill="#e8475c"/>
<rect x="452" y="585" width="1" height="37" fill="#e8475c"/>
<rect x="457" y="604" width="1" height="18" fill="#e8475c"/>
<rect x="462" y="621" width="1" height="3" fill="#4fb685"/>
<rect x="467" y="621" width="1" height="8" fill="#4fb685"/>
<rect x="472" y="621" width="1" height="10" fill="#4fb685"/>
<rect x="477" y="621" width="1" height="17" fill="#4fb685"/>
<rect x="482" y="621" width="1" height="17" fill="#4fb685"/>
<rect x="487" y="621" width="1" height="12" fill="#4fb685"/>
<rect x="492" y="621" width="1" height="11" fill="#4fb685"/>
<rect x="497" y="621" width="1" height="8" fill="#4fb685"/>
<rect x="502" y="621" width="1" height="12" fill="#4fb685"/>
<rect x="507" y="621" width="1" height="11" fill="#4fb685"/>
<rect x="512" y="621" width="1" height="12" fill="#4fb685"/>
<rect x="517" y="621" width="1" height="15" fill="#4fb685"/>
<rect x="522" y="621" width="1" height="15" fill="#4fb685"/>
<rect x="527" y="621" width="1" height="14" fill="#4fb685"/>
<rect x="532" y="621" width="1" height="9" fill="#4fb685"/>
<rect x="537" y="621" width="1" height="2" fill="#4fb685"/>
<rect x="542" y="621" width="1" height="1" fill="#4fb685"/>
<rect x="547" y="620" width="1" height="2" fill="#e8475c"/>
<rect x="552" y="619" width="1" height="3" fill="#e8475c"/>
<rect x="557" y="616" width="1" height="6" fill="#e8475c"/>
<rect x="562" y="614" width="1" height="8" fill="#e8475c"/>
<rect x="567" y="621" width="1" height="1" fill="#e8475c"/>
<rect x="572" y="621" width="1" height="4" fill="#4fb685"/>
<rect x="577" y="621" width="1" height="8" fill="#4fb685"/>
<rect x="582" y="621" width="1" height="8" fill="#4fb685"/>
<rect x="587" y="621" width="1" height="8" fill="#4fb685"/>
<rect x="592" y="621" width="1" height="8" fill="#4fb685"/>
<rect x="597" y="621" width="1" height="8" fill="#4fb685"/>
<rect x="602" y="621" width="1" height="10" fill="#4fb685"/>
<rect x="607" y="621" width="1" height="14" fill="#4fb685"/>
<rect x="612" y="621" width="1" height="19" fill="#4fb685"/>
<rect x="617" y="621" width="1" height="24" fill="#4fb685"/>
<rect x="622" y="621" width="1" height="29" fill="#4fb685"/>
<rect x="627" y="621" width="1" height="33" fill="#4fb685"/>
<rect x="632" y="621" width="1" height="35" fill="#4fb685"/>
</g>
<polyline points="92.5,586.4 97.5,584.4 102.5,584.3 107.5,584.4 112.5,584.4 117.5,585.2 122.5,587.7 127.5,590.5 132.5,593.0 137.5,595.5 142.5,598.3 147.5,601.0 152.5,603.3 157.5,605.4 162.5,607.1 167.5,609.2 172.5,610.4 177.5,611.2 182.5,610.4 187.5,610.0 192.5,610.0 197.5,610.4 202.5,610.9 207.5,611.3 212.5,611.5 217.5,612.5 222.5,612.5 227.5,612.5 232.5,612.4 237.5,612.0 242.5,612.0 247.5,611.2 252.5,610.4 257.5,610.4 262.5,610.4 267.5,609.5 272.5,609.2 277.5,609.2 282.5,609.2 287.5,609.2 292.5,609.2 297.5,608.7 302.5,608.2 307.5,607.6 312.5,607.6 317.5,606.6 322.5,605.4 327.5,604.6 332.5,603.8 337.5,602.6 342.5,601.6 347.5,601.6 352.5,602.9 357.5,603.4 362.5,603.4 367.5,603.4 372.5,603.4 377.5,603.4 382.5,603.4 387.5,603.3 392.5,602.6 397.5,601.6 402.5,600.5 407.5,600.0 412.5,599.3 417.5,598.3 422.5,596.0 427.5,594.3 432.5,592.2 437.5,589.8 442.5,587.2 447.5,583.4 452.5,577.8 457.5,575.2 462.5,576.2 467.5,576.5 472.5,578.1 477.5,580.1 482.5,581.9 487.5,583.1 492.5,583.9 497.5,585.1 502.5,586.7 507.5,588.1 512.5,589.2 517.5,591.0 522.5,593.0 527.5,595.0 532.5,596.0 537.5,596.3 542.5,596.0 547.5,595.8 552.5,595.3 557.5,594.7 562.5,594.3 567.5,594.3 572.5,594.3 577.5,595.0 582.5,596.3 587.5,597.6 592.5,598.3 597.5,599.3 602.5,600.5 607.5,602.9 612.5,605.4 617.5,608.2 622.5,610.4 627.5,613.5 632.5,617.0" fill="none" stroke="#38b872" stroke-width="1"/>
<polyline points="92.5,579.5 97.5,577.3 102.5,579.8 107.5,584.8 112.5,587.2 117.5,589.4 122.5,595.5 127.5,601.0 132.5,604.3 137.5,606.2 142.5,607.9 147.5,610.4 152.5,612.9 157.5,614.8 162.5,616.2 167.5,616.2 172.5,614.2 177.5,612.9 182.5,610.4 187.5,609.5 192.5,609.5 197.5,611.2 202.5,612.5 207.5,613.2 212.5,613.2 217.5,614.5 222.5,613.2 227.5,612.9 232.5,612.5 237.5,611.5 242.5,610.4 247.5,608.7 252.5,608.7 257.5,608.7 262.5,608.7 267.5,608.7 272.5,609.2 277.5,609.2 282.5,609.2 287.5,608.7 292.5,607.6 297.5,606.7 302.5,606.7 307.5,605.4 312.5,605.4 317.5,604.3 322.5,602.5 327.5,600.5 332.5,598.3 337.5,596.3 342.5,599.6 347.5,602.1 352.5,604.6 357.5,606.6 362.5,605.4 367.5,604.1 372.5,604.1 377.5,603.4 382.5,603.3 387.5,601.0 392.5,599.3 397.5,598.3 402.5,597.6 407.5,597.6 412.5,596.3 417.5,593.8 422.5,591.0 427.5,587.2 432.5,582.3 437.5,579.4 442.5,574.5 447.5,567.9 452.5,560.8 457.5,566.6 462.5,577.3 467.5,579.8 472.5,582.3 477.5,588.1 482.5,590.2 487.5,589.4 492.5,589.4 497.5,589.7 502.5,591.7 507.5,593.3 512.5,594.7 517.5,598.3 522.5,600.5 527.5,601.3 532.5,600.5 537.5,596.7 542.5,595.7 547.5,595.5 552.5,594.8 557.5,592.7 562.5,590.0 567.5,592.7 572.5,596.3 577.5,598.8 582.5,599.6 587.5,601.3 592.5,601.6 597.5,603.3 602.5,606.2 607.5,609.5 612.5,612.0 617.5,614.2 622.5,620.0 627.5,627.0 632.5,634.0" fill="none" stroke="#3b86f3" stroke-width="1"/>
<text x="91" y="12.5" font-family="'Liberation Sans', 'Noto Sans CJK SC', 'WenQuanYi Zen Hei', sans-serif" font-size="12" font-weight="500" fill="#111">现货黄金</text>
<text x="138" y="12.5" font-family="'Liberation Sans', 'Noto Sans CJK SC', 'WenQuanYi Zen Hei', sans-serif" font-size="12" letter-spacing="0.8" fill="#ff7a00">【日线】</text>
<circle cx="191.7" cy="9.4" r="4.1" fill="none" stroke="#ff7a00" stroke-width="1"/>
<rect x="187.5" y="8.9" width="8.4" height="1.1" fill="#ff7a00"/>
<rect x="191.2" y="5.2" width="1" height="8.4" fill="#ff7a00" opacity="0.45"/>
<text x="90.6" y="418.3" font-family="'Liberation Sans', Arial, sans-serif" font-size="12" letter-spacing="0.15" fill="#1e1e1e">RSI(14,14,14)</text>
<text x="169.6" y="418.3" font-family="'Liberation Sans', Arial, sans-serif" font-size="12" letter-spacing="0.2" fill="#5b9bf0">RSI1:33.95</text>
<text x="237.8" y="418.3" font-family="'Liberation Sans', Arial, sans-serif" font-size="12" letter-spacing="0.2" fill="#5cc28c">RSI2:33.95</text>
<text x="305.6" y="418.3" font-family="'Liberation Sans', Arial, sans-serif" font-size="12" letter-spacing="0.2" fill="#3fb0e6">RSI3:33.95</text>
<text x="373.6" y="418.3" font-family="'Liberation Sans', Arial, sans-serif" font-size="12" letter-spacing="0.2" fill="#bdbdbd">L20:20.00</text>
<text x="435.7" y="418.3" font-family="'Liberation Sans', Arial, sans-serif" font-size="12" letter-spacing="0.2" fill="#bdbdbd">L30:30.00</text>
<text x="497.8" y="418.3" font-family="'Liberation Sans', Arial, sans-serif" font-size="12" letter-spacing="0.2" fill="#bdbdbd">L50:50.00</text>
<text x="559.9" y="418.3" font-family="'Liberation Sans', Arial, sans-serif" font-size="12" letter-spacing="0.2" fill="#bdbdbd">L70:7</text>
<text x="90.6" y="551.8" font-family="'Liberation Sans', Arial, sans-serif" font-size="12" letter-spacing="0.3" fill="#1e1e1e">MACD(26,12,9)</text>
<text x="180.7" y="551.8" font-family="'Liberation Sans', Arial, sans-serif" font-size="12" letter-spacing="0.2" fill="#5b9bf0">DIFF:-53.81</text>
<text x="252.6" y="551.8" font-family="'Liberation Sans', Arial, sans-serif" font-size="12" letter-spacing="0.2" fill="#5cc28c">DEA:14.86</text>
<text x="318.8" y="551.8" font-family="'Liberation Sans', Arial, sans-serif" font-size="12" letter-spacing="0.2" fill="#3fb0e6">MACD:-137.34</text>
<rect x="147" y="657" width="1" height="5" fill="#c3c9d2"/>
<text x="149" y="669" font-family="'Liberation Sans', Arial, sans-serif" font-size="12" font-weight="bold" fill="#1f2530">2025/11</text>
<rect x="247" y="657" width="1" height="5" fill="#c3c9d2"/>
<text x="249" y="669" font-family="'Liberation Sans', Arial, sans-serif" font-size="12" font-weight="bold" fill="#1f2530">2025/12</text>
<rect x="357" y="657" width="1" height="5" fill="#c3c9d2"/>
<text x="359" y="669" font-family="'Liberation Sans', Arial, sans-serif" font-size="12" font-weight="bold" fill="#1f2530">2026/01</text>
<rect x="462" y="657" width="1" height="5" fill="#c3c9d2"/>
<text x="464" y="669" font-family="'Liberation Sans', Arial, sans-serif" font-size="12" font-weight="bold" fill="#1f2530">2026/02</text>
<rect x="562" y="657" width="1" height="5" fill="#c3c9d2"/>
<text x="564" y="669" font-family="'Liberation Sans', Arial, sans-serif" font-size="12" font-weight="bold" fill="#1f2530">2026/03</text>
<text x="32.5" y="672" font-family="'Liberation Sans', 'Noto Sans CJK SC', 'WenQuanYi Zen Hei', sans-serif" font-size="13" font-weight="bold" fill="#ff7200">日线</text>
<polygon points="63.5,672 68,663 72.5,672" fill="#ff7a00"/>
<circle cx="27.9" cy="544.8" r="3.6" fill="none" stroke="#111" stroke-width="1"/>
<circle cx="27.9" cy="544.8" r="1.9" fill="#f00"/>
<g stroke="#f00" stroke-width="1.1">
<line x1="33.1" y1="544.8" x2="35.2" y2="544.8"/>
<line x1="31.9" y1="548.8" x2="33.3" y2="550.2"/>
<line x1="27.9" y1="550.0" x2="27.9" y2="552.1"/>
<line x1="23.9" y1="548.8" x2="22.5" y2="550.2"/>
<line x1="22.7" y1="544.8" x2="20.6" y2="544.8"/>
<line x1="23.9" y1="540.8" x2="22.5" y2="539.4"/>
<line x1="27.9" y1="539.6" x2="27.9" y2="537.5"/>
<line x1="31.9" y1="540.8" x2="33.3" y2="539.4"/>
</g>
<rect x="661.5" y="235.5" width="70" height="16" fill="#fff" stroke="#ff7f0f" stroke-width="1"/>
<text x="664" y="248" font-family="'Liberation Sans', Arial, sans-serif" font-size="12" letter-spacing="0.3" fill="#ff7f0f">4654.79</text>
<polygon points="721,231 723,227 726,227 726,231" fill="#ff7f0f"/>
<polygon points="721,235 723,231.5 726,231.5 726,235" fill="#ff7f0f"/>
<rect x="598.5" y="-0.5" width="13" height="13" fill="none" stroke="#1b74d1" stroke-width="1"/>
<rect x="604.2" y="1.4" width="1.5" height="2.2" fill="#1b74d1"/>
<rect x="604.2" y="5.2" width="1.5" height="1.5" fill="#1b74d1"/>
<rect x="604.2" y="8.2" width="1.5" height="2.4" fill="#1b74d1"/>
<rect x="600.2" y="5.2" width="2.6" height="1.5" fill="#1b74d1"/>
<rect x="607.2" y="5.2" width="2.6" height="1.5" fill="#1b74d1"/>
<rect x="614.5" y="-0.5" width="13" height="13" fill="none" stroke="#1b74d1" stroke-width="1"/>
<g stroke="#1b74d1" stroke-width="1.2" fill="#1b74d1">
<line x1="617.4" y1="2" x2="617.4" y2="10.5"/><line x1="616.5" y1="9.6" x2="625.5" y2="9.6"/>
<polygon points="615.6,3.5 617.4,1.5 619.2,3.5" stroke="none"/><polygon points="624,8 626,9.6 624,11.2" stroke="none"/>
<line x1="620.6" y1="2.2" x2="620.6" y2="7.6"/><polygon points="624,2.6 624,7.2 621.6,4.9" stroke="none"/>
</g>
<rect x="630" y="-1" width="14" height="14" fill="#1b74d1"/>
<g stroke="#fff" stroke-width="1.2" fill="#fff">
<line x1="633.4" y1="2" x2="633.4" y2="10.5"/><line x1="632.5" y1="9.6" x2="641.5" y2="9.6"/>
<polygon points="631.6,3.5 633.4,1.5 635.2,3.5" stroke="none"/><polygon points="640,8 642,9.6 640,11.2" stroke="none"/>
<polygon points="636.4,3.2 636.4,8.7 641,5.95" stroke="none" fill-opacity="0.85"/>
</g>
<rect x="646.5" y="-0.5" width="13" height="13" fill="none" stroke="#1b74d1" stroke-width="1"/>
<rect x="648.6" y="1.8" width="3.2" height="8.6" fill="none" stroke="#1b74d1" stroke-width="1.2"/>
<rect x="650.5" y="5.3" width="4.5" height="1.4" fill="#1b74d1"/>
<polygon points="654.5,3 657.6,6 654.5,9" fill="#1b74d1"/>
<rect x="607" y="619" width="32" height="31.5" rx="4" fill="#d9c7b8" opacity="0.6"/>
<rect x="606" y="618" width="32" height="31.5" rx="4" fill="#f67d12"/>
<circle cx="622.2" cy="634" r="12.3" fill="#fff"/>
<circle cx="625.4" cy="631.3" r="7.1" fill="#f67d12"/>
<circle cx="631.3" cy="625.6" r="2.4" fill="#f67d12"/>
<path d="M612.0 632.6 A10.3 10.3 0 0 1 619.0 624.2" stroke="#f67d12" stroke-width="1.2" fill="none"/>
<text x="645.6" y="638.6" font-family="'Liberation Sans', 'Noto Sans CJK SC', 'WenQuanYi Zen Hei', sans-serif" font-size="21.5" font-weight="bold" fill="#dcc4b0" opacity="0.9">汇金网</text>
<text x="644.6" y="637.8" font-family="'Liberation Sans', 'Noto Sans CJK SC', 'WenQuanYi Zen Hei', sans-serif" font-size="21.5" font-weight="bold" fill="#f7ebe2">汇金网</text>
<text x="645.4" y="650.4" font-family="'Liberation Sans', Arial, sans-serif" font-size="7.5" font-weight="bold" letter-spacing="0.1" fill="#dcc6b4">www.gold678.com</text>
<text x="644.8" y="649.8" font-family="'Liberation Sans', Arial, sans-serif" font-size="7.5" font-weight="bold" letter-spacing="0.1" fill="#f1e3d8">www.gold678.com</text>
</svg>
</body></html>
